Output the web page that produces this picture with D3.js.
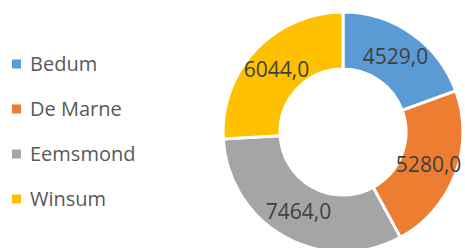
<!DOCTYPE html>
<html>
<head>
<meta charset="utf-8">
<style>
  body { margin: 0; background: #fff; }
  svg { display: block; font-family: "Open Sans", sans-serif; }
</style>
</head>
<body>
  <svg id="svg" width="465" height="248"></svg>

  <script src="https://cdn.jsdelivr.net/npm/d3@7/dist/d3.min.js"></script>
  <script type="text/javascript">
  // data
  const categories = ["Bedum", "De Marne", "Eemsmond", "Winsum"];
  const values = [4529, 5280, 7464, 6044];
  const colors = ["#5B9BD5", "#ED7D31", "#A5A5A5", "#FFC000"];

  const svg = d3.select("#svg");
  const cx = 343, cy = 132;
  const outerR = 120, innerR = 63;

  const color = d3.scaleOrdinal().domain(categories).range(colors);

  const pie = d3.pie().sort(null).value(d => d.value);
  const arcs = pie(categories.map((c, i) => ({ name: c, value: values[i] })));
  const arc = d3.arc().innerRadius(innerR).outerRadius(outerR);

  const g = svg.append("g").attr("transform", "translate(" + cx + "," + cy + ")");

  g.selectAll("path").data(arcs).enter().append("path")
    .attr("d", arc)
    .attr("fill", d => color(d.data.name))
    .attr("stroke", "#fff")
    .attr("stroke-width", 3)
    .attr("stroke-linejoin", "miter");

  const fmt = v => d3.format(".1f")(v).replace(".", ",");

  g.selectAll("text").data(arcs).enter().append("text")
    .attr("transform", d => "translate(" + arc.centroid(d) + ")")
    .attr("text-anchor", "middle")
    .attr("dy", "0.35em")
    .attr("font-size", 21)
    .attr("fill", "#404040")
    .text(d => fmt(d.data.value));

  // legend
  const ly = d3.scalePoint().domain(categories).range([64, 199]);
  const lg = svg.append("g").selectAll("g").data(categories).enter().append("g")
    .attr("transform", d => "translate(12," + ly(d) + ")");
  lg.append("rect")
    .attr("x", 0).attr("y", -4.5)
    .attr("width", 9).attr("height", 9)
    .attr("fill", d => color(d));
  lg.append("text")
    .attr("x", 18)
    .attr("dy", "0.35em")
    .attr("font-size", 20)
    .attr("fill", "#595959")
    .text(d => d);
  </script>
</body>
</html>
